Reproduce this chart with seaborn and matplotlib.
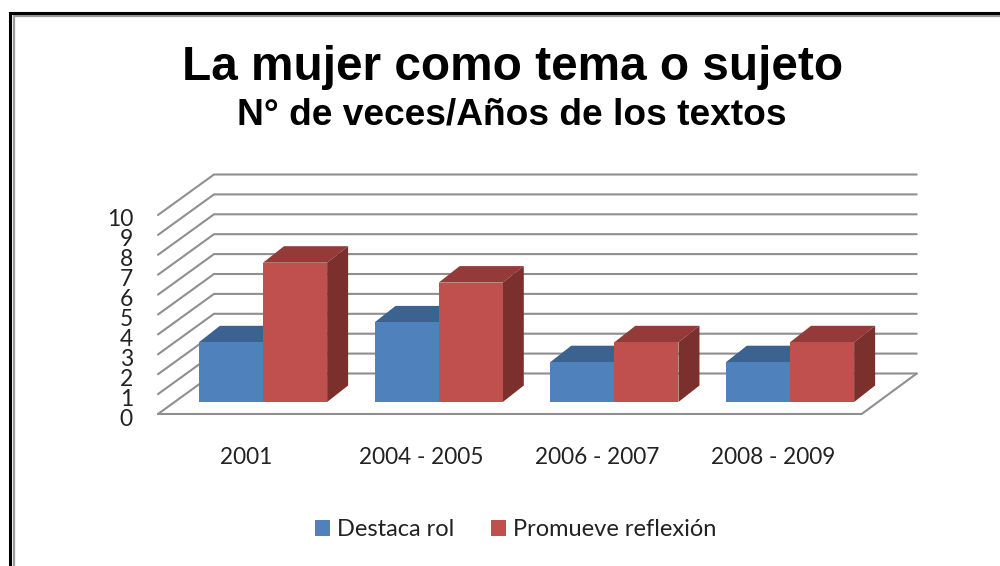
import pandas as pd
import seaborn as sns
import matplotlib.pyplot as plt
from matplotlib.patches import Polygon

# chart values
periods = ["2001", "2004 - 2005", "2006 - 2007", "2008 - 2009"]
destaca_rol = [3, 4, 2, 2]
promueve_reflexion = [7, 6, 3, 3]
y_ticks = [0, 1, 2, 3, 4, 5, 6, 7, 8, 9, 10]

sns.set_theme(style="white")
plt.rcParams['font.family'] = ['Lato', 'DejaVu Sans']

df = pd.DataFrame({
    "Periodo": periods * 2,
    "Veces": destaca_rol + promueve_reflexion,
    "Serie": ["Destaca rol"] * 4 + ["Promueve reflexión"] * 4,
})

W, H = 1000, 566
x_unit = 175.67  # pixels between groups
y_unit = 19.9    # pixels per value
x0_px, y0_px = 263, 402  # where first group / value 0 fall

fig = plt.figure(figsize=(10, 5.66), dpi=100)
ax = fig.add_axes([0, 0, 1, 1])

sns.barplot(data=df, x="Periodo", y="Veces", hue="Serie", ax=ax,
            palette=["#4F81BD", "#C0504D"], width=0.73, gap=0, saturation=1,
            linewidth=0, zorder=3)

ax.set_xlim(-x0_px / x_unit, (W - x0_px) / x_unit)
ax.set_ylim(-(H - y0_px) / y_unit, y0_px / y_unit)
ax.set_axis_off()

# pseudo 3d offsets, in data units
dx = 21 / x_unit
dy = 16.5 / y_unit
front_left, back_left = (158 - x0_px) / x_unit, (214 - x0_px) / x_unit
front_right, back_right = (861.7 - x0_px) / x_unit, (916.7 - x0_px) / x_unit
front_y, back_y = -12 / y_unit, 28.5 / y_unit

# walls and floor
grid_col = "#8f8f8f"
for v in y_ticks:
    ax.plot([front_left, back_left, back_right],
            [v + front_y, v + back_y, v + back_y],
            color=grid_col, lw=1.5, zorder=1, solid_joinstyle="miter")
    ax.text(front_left - 25 / x_unit, v + front_y - 5 / y_unit, str(v),
            ha="right", va="center", fontsize=16.5, color="#222222")
ax.plot([front_left, front_right, back_right],
        [front_y, front_y, back_y], color=grid_col, lw=1.5, zorder=1)

# top and side faces of the bars
tops = ["#3B6290", "#943A38"]
sides = ["#2F4F75", "#7B302E"]
for i, cont in enumerate(ax.containers):
    for bar in cont:
        x, w, h = bar.get_x(), bar.get_width(), bar.get_height()
        ax.add_patch(Polygon([(x, h), (x + dx, h + dy), (x + w + dx, h + dy), (x + w, h)],
                             closed=True, fc=tops[i], ec="none", zorder=2 + i * 2))
        ax.add_patch(Polygon([(x + w, 0), (x + w + dx, dy), (x + w + dx, h + dy), (x + w, h)],
                             closed=True, fc=sides[i], ec="none", zorder=2 + i * 2))
    for bar in cont:
        bar.set_zorder(3 + i * 2)

# category labels sit a bit left of the groups
for i, p in enumerate(periods):
    ax.text(i - 17 / x_unit, -55.5 / y_unit, p, ha="center", va="center",
            fontsize=16.3, color="#222222")

ax.legend(loc="center", bbox_to_anchor=(0.516, 1 - 530 / H), ncols=2, frameon=False,
          fontsize=17, handlelength=0.63, handleheight=0.63, handletextpad=0.3,
          columnspacing=1.55, labelcolor="#222222")

fig.text(0.5125, 1 - 68 / H, "La mujer como tema o sujeto", ha="center", va="center",
         fontsize=34.4, fontweight="bold", family="Liberation Sans", color="black")
fig.text(0.512, 1 - 115 / H, "N° de veces/Años de los textos", ha="center", va="center",
         fontsize=26.7, fontweight="bold", family="Liberation Sans", color="black")

# slide frame, cut off by the image on the right and bottom
xmin, xmax = ax.get_xlim()
ymin, ymax = ax.get_ylim()
ax.plot([xmin + 13.5 / x_unit, xmin + 13.5 / x_unit, xmax],
        [ymin, ymax - 16 / y_unit, ymax - 16 / y_unit],
        color="#9a9a9a", lw=1.6, zorder=5, solid_joinstyle="miter")
ax.plot([xmin + 9.5 / x_unit, xmin + 9.5 / x_unit, xmax],
        [ymin, ymax - 13.5 / y_unit, ymax - 13.5 / y_unit],
        color="black", lw=2.2, zorder=6, solid_joinstyle="miter")

plt.savefig("out.png", dpi=100)
